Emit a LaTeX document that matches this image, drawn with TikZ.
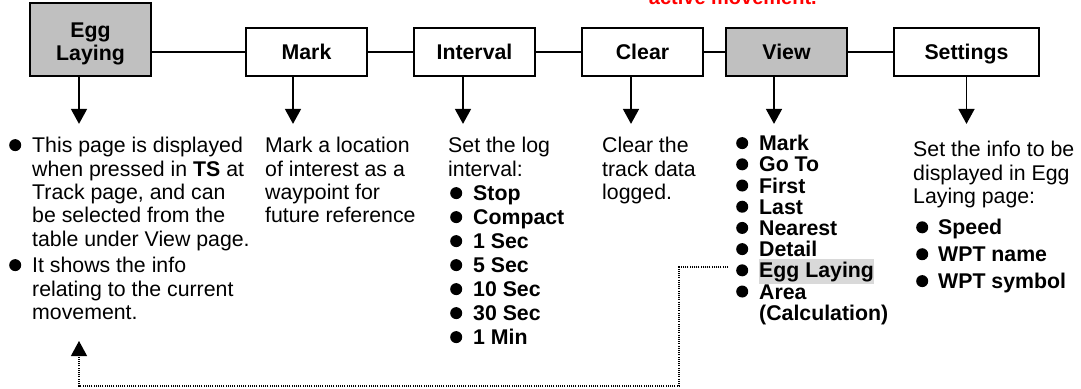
\documentclass[tikz,border=0pt]{standalone}
\usepackage{fontspec}
\setmainfont{Liberation Sans}
\usetikzlibrary{arrows.meta}
\definecolor{boxgray}{RGB}{192,192,192}
\definecolor{hlgray}{RGB}{217,217,217}
\definecolor{warnred}{RGB}{255,0,0}
\newcommand\bulpic{\tikz[baseline=-7.5pt]\fill[black] (0,0) circle[radius=6pt];}
\newcommand\bulw[1]{\makebox[#1][l]{\hspace*{-1pt}\bulpic}}
\begin{document}
\begin{tikzpicture}[x=1pt,y=-1pt,
  box/.style={draw=black, line width=1.8pt, minimum height=48pt, minimum width=121pt, inner sep=0pt,
    font={\fontsize{21.3}{23}\selectfont\bfseries}, align=center},
  single/.style={text height=15.3pt, text depth=0pt},
  link/.style={line width=1.6pt},
  down/.style={line width=1.6pt, -{Triangle[length=15pt,width=16pt]}},
  txt/.style={anchor=north west, inner sep=0pt, align=left,
    font={\fontsize{21.3}{23.4}\selectfont\lineskiplimit-100pt\relax}},
  dotline/.style={line width=1.2pt, dash pattern=on 1pt off 1.2pt, -{Triangle[length=15pt,width=16pt]}}
]
\useasboundingbox (0,0) rectangle (1081,388);

% red text, cut by the top edge
\begin{scope}
\clip (0,0) rectangle (1081,388);
\node[anchor=base east, inner sep=0pt, text=warnred, font={\fontsize{20}{22}\selectfont\bfseries}] (note) at (817,4.5) {active movement.};
\end{scope}

% boxes
\node[box, fill=boxgray, minimum height=73pt] (egg) at (90.5,39.5) {\rule{0pt}{23pt}Egg\\Laying};
\node[box, single] (mark) at (306.5,52) {Mark};
\node[box, single] (interval) at (474.5,52) {Interval};
\node[box, single] (clear) at (642.5,52) {Clear};
\node[box, single, fill=boxgray] (view) at (786.5,52) {View};
\node[box, single, minimum width=145pt] (settings) at (966.5,52) {Settings};

% horizontal links
\draw[link] (mark.west -| egg.east) -- (mark.west);
\draw[link] (mark.east) -- (interval.west);
\draw[link] (interval.east) -- (clear.west);
\draw[link] (clear.east) -- (view.west);
\draw[link] (view.east) -- (settings.west);

% down arrows
\draw[down] ([xshift=-11.5pt]egg.south) -- ++(0,47);
\draw[down] ([xshift=-13.5pt]mark.south) -- ++(0,47);
\draw[down] ([xshift=-11.5pt]interval.south) -- ++(0,47);
\draw[down] ([xshift=-11.5pt]clear.south) -- ++(0,47);
\draw[down] ([xshift=-12.5pt]view.south) -- ++(0,47);
\draw[down] (settings.south) -- ++(0,47);

% texts
\node[txt] (eggtxt) at (10,137) {%
\bulw{22pt}This page is displayed\\
\hspace*{22pt}when pressed in \textbf{TS} at\\
\hspace*{22pt}Track page, and can\\
\hspace*{22pt}be selected from the\\
\hspace*{22pt}table under View page.\\[3pt]
\bulw{22pt}It shows the info\\
\hspace*{22pt}relating to the current\\
\hspace*{22pt}movement.};

\node[txt] (marktxt) at (265,137) {Mark a location\\of interest as a\\waypoint for\\future reference};

\node[txt, font={\fontsize{21.3}{24}\selectfont\lineskiplimit-100pt\relax}] (inttxt) at (448,137) {%
Set the log\\
interval:\\
\hspace*{3pt}\bulw{22pt}\textbf{Stop}\\
\hspace*{3pt}\bulw{22pt}\textbf{Compact}\\
\hspace*{3pt}\bulw{22pt}\textbf{1 Sec}\\
\hspace*{3pt}\bulw{22pt}\textbf{5 Sec}\\
\hspace*{3pt}\bulw{22pt}\textbf{10 Sec}\\
\hspace*{3pt}\bulw{22pt}\textbf{30 Sec}\\
\hspace*{3pt}\bulw{22pt}\textbf{1 Min}};

\node[txt] (cleartxt) at (602,137) {Clear the\\track data\\logged.};

\node[txt, font={\fontsize{21.3}{21.2}\selectfont\lineskiplimit-100pt\relax}] (viewtxt) at (737,135) {%
\bulw{22pt}\textbf{Mark}\\
\bulw{22pt}\textbf{Go To}\\
\bulw{22pt}\textbf{First}\\
\bulw{22pt}\textbf{Last}\\
\bulw{22pt}\textbf{Nearest}\\
\bulw{22pt}\textbf{Detail}\\
\bulw{22pt}{\setlength\fboxsep{0pt}\colorbox{hlgray}{\rule[-6.5pt]{0pt}{25.5pt}\textbf{Egg Laying}}}\\
\bulw{22pt}\textbf{Area}\\
\hspace*{22pt}\textbf{(Calculation)}};

\node[txt] (settxt) at (913,141) {%
Set the info to be\\
displayed in Egg\\
Laying page:\\[8pt]
\hspace*{4pt}\bulw{21pt}\textbf{Speed}\\[3.5pt]
\hspace*{4pt}\bulw{21pt}\textbf{WPT name}\\[3.5pt]
\hspace*{4pt}\bulw{21pt}\textbf{WPT symbol}};

% dotted return link
\coordinate (dotstart) at (728,267);
\coordinate (dotend) at (79,341);
\draw[dotline] (dotstart) -| (679,386) -| (dotend);
\end{tikzpicture}
\end{document}
